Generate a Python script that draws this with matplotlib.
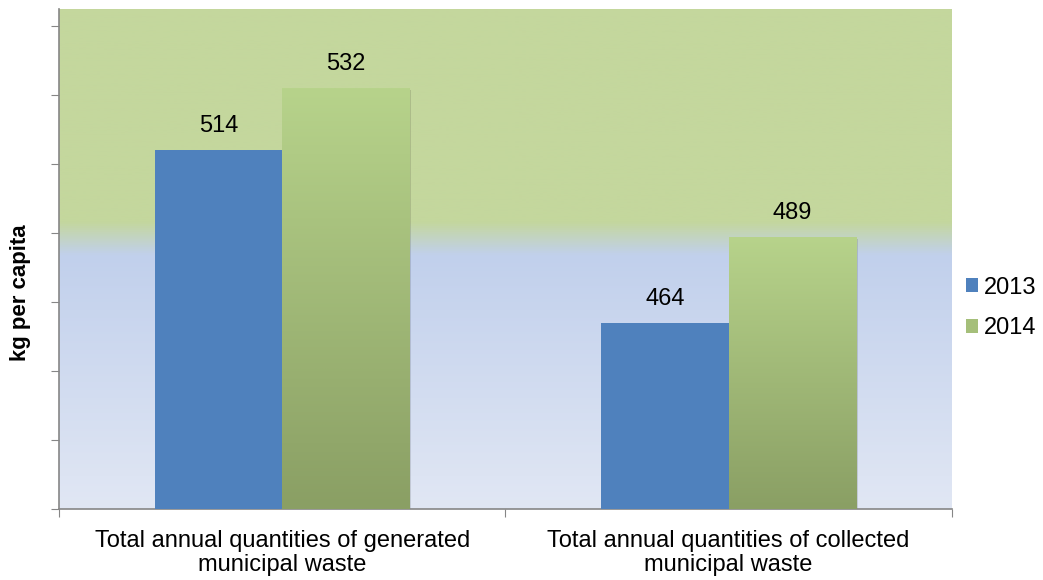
import numpy as np
import matplotlib
matplotlib.use("Agg")
import matplotlib.pyplot as plt
from matplotlib.colors import LinearSegmentedColormap
from matplotlib.patches import Patch, Rectangle

plt.rcParams['font.family'] = ['Liberation Sans', 'DejaVu Sans']

# data
categories = ['Total annual quantities of generated\nmunicipal waste',
              'Total annual quantities of collected\nmunicipal waste']
years = ['2013', '2014']
values_2013 = [514, 464]
values_2014 = [532, 489]

# colours
BLUE = '#4f81bd'
GREEN_TOP = '#b7d38b'
GREEN_BOT = '#8a9f64'
AXIS_GREY = '#868686'

fig = plt.figure(figsize=(10.43, 5.8), dpi=100)
ax = fig.add_axes([0.0566, 0.1224, 0.856, 0.862])

y_min, y_max = 410, 555
x = np.arange(len(categories))
width = 0.285

ax.set_xlim(-0.5, len(categories) - 0.5)
ax.set_ylim(y_min, y_max)

# background gradient (blue at the bottom, green at the top)
bg_cmap = LinearSegmentedColormap.from_list('bg', [
    (0.0, '#e1e7f4'),
    (0.508, '#c1d0ec'),
    (0.575, '#c4d79d'),
    (1.0, '#c4d79d')])
grad = np.linspace(0, 1, 512).reshape(-1, 1)
ax.imshow(grad, cmap=bg_cmap, origin='lower', aspect='auto',
          extent=[-0.5, len(categories) - 0.5, y_min, y_max], zorder=0)

green_cmap = LinearSegmentedColormap.from_list('gr', [GREEN_BOT, GREEN_TOP])

# 2013 bars, flat blue
bars13 = ax.bar(x - width / 2, values_2013, width, color=BLUE,
                zorder=3, label=years[0])
# 2014 bars, gradient green
bars14 = ax.bar(x + width / 2, values_2014, width, color='none',
                zorder=3, label=years[1])
for b in bars14:
    x0, w, h = b.get_x(), b.get_width(), b.get_height()
    im = ax.imshow(grad, cmap=green_cmap, origin='lower', aspect='auto',
                   extent=[x0, x0 + w, y_min, h], zorder=3)
    im.set_clip_path(b)

# soft shadow behind bars
for b in list(bars13) + list(bars14):
    sh = Rectangle((b.get_x() + 0.004, y_min), b.get_width(),
                   b.get_height() - y_min - 0.6, facecolor='#000000',
                   alpha=0.12, edgecolor='none', zorder=2)
    ax.add_patch(sh)

# value labels
for b in list(bars13) + list(bars14):
    ax.annotate(str(int(b.get_height())),
                (b.get_x() + b.get_width() / 2, b.get_height()),
                xytext=(0, 13), textcoords='offset points',
                ha='center', va='baseline', fontsize=17, color='#000000',
                zorder=5)

ax.set_xticks([-0.5, 0.5, 1.5])
ax.set_xticklabels([])
ax.set_xticks(x, minor=True)
ax.set_xticklabels(categories, minor=True, fontsize=17, linespacing=1.1)
ax.tick_params(axis='x', which='minor', length=0, pad=15)
ax.tick_params(axis='x', which='major', length=6, color=AXIS_GREY, direction='out')

ax.set_yticks(np.arange(410, 551, 20))
ax.set_yticklabels([])
ax.tick_params(axis='y', length=6, color=AXIS_GREY, direction='out')

for s in ['top', 'right']:
    ax.spines[s].set_visible(False)
for s in ['left', 'bottom']:
    ax.spines[s].set_color(AXIS_GREY)
    ax.spines[s].set_linewidth(1.2)

ax.set_ylabel('kg per capita', fontsize=16, fontweight='bold')
ax.yaxis.set_label_coords(-0.031, 0.432)

handles = [Patch(facecolor=BLUE, edgecolor='none'),
           Patch(facecolor='#a5bf7a', edgecolor='none')]
fig.legend(handles, years, loc='center left', bbox_to_anchor=(0.926, 0.469),
           frameon=False, fontsize=17, handlelength=0.5, handleheight=0.5,
           handletextpad=0.25, labelspacing=0.8, borderaxespad=0,
           borderpad=0)

fig.savefig('out.png', dpi=100)
